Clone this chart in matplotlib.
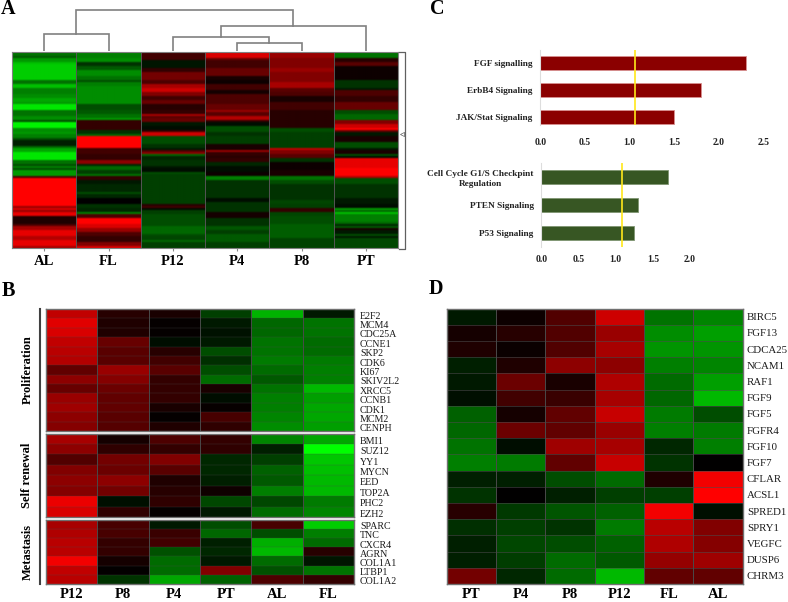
import numpy as np
import matplotlib
matplotlib.use("Agg")
import matplotlib.pyplot as plt
from matplotlib.colors import LinearSegmentedColormap
from matplotlib.transforms import ScaledTranslation

plt.rcParams['font.family'] = ['Liberation Serif', 'DejaVu Serif']

# === Panel A data: bands per column as (rows, value), 98 rows in total ===
a_labels = ["AL", "FL", "P12", "P4", "P8", "PT"]
a_al = [(2,-.45),(1,-.35),(2,-.6),(1,-.75),(8,-.8),(2,-.45),(2,-.75),(3,-.5),(2,-.55),(2,-.65),(1,-.6),
        (3,-.9),(3,-.45),(2,-.55),(1,-.3),(3,-.95),(2,-.55),(1,-.6),(2,-.5),(1,-.3),(3,-.12),(1,-.4),(2,-.65),
        (4,-.9),(2,-.45),(1,-.3),(1,-.5),(1,-.3),(3,-.6),(1,.3),(14,1.0),(1,.6),(1,.85),(1,.6),(2,.9),
        (4,.12),(1,.3),(2,.65),(3,.9),(2,.7),(3,.9),(2,.65)]
a_fl = [(3,-.5),(2,-.55),(2,-.2),(2,-.35),(3,-.55),(2,-.45),(1,-.3),(2,-.5),(9,-.55),(1,-.3),(2,-.3),(2,-.35),
        (2,-.45),(1,-.6),(5,.2),(2,-.2),(1,-.4),(6,1.0),(3,.25),(3,.2),(2,.55),(1,-.15),(2,-.4),(2,-.25),(1,-.45),
        (2,.2),(2,-.1),(4,-.15),(1,-.3),(2,-.15),(3,0),(2,-.2),(2,-.15),(1,-.5),(2,.3),(3,1.0),(2,.85),(2,.6),
        (2,.3),(3,.2),(2,.5),(2,.85)]
a_p12 = [(4,.25),(4,-.08),(2,.2),(4,.45),(2,.3),(2,.65),(2,.8),(2,.5),(2,.25),(2,.4),(3,.15),(2,.2),(1,.65),(1,.35),
         (2,.4),(2,-.1),(2,-.05),(1,.2),(2,.8),(4,-.3),(2,-.2),(1,-.1),(1,.3),(1,.55),(1,-.4),(2,-.15),(3,-.2),(1,-.1),
         (2,-.05),(1,-.3),(2,-.25),(13,-.25),(1,.15),(1,.25),(1,-.05),(2,-.25),(6,-.3),(4,-.4),(1,-.3),(2,-.27),(1,-.4),(3,-.25)]
a_p4 = [(3,.85),(1,.4),(4,.25),(4,.4),(2,.1),(2,.05),(3,.25),(2,.08),(5,.3),(3,.4),(1,.6),(2,.35),(2,.7),(1,.2),(2,-.05),
        (3,-.3),(2,-.2),(4,-.25),(3,.1),(1,.6),(2,.2),(1,.15),(2,.2),(2,-.15),(3,-.05),(2,.05),(2,-.5),(2,-.2),(7,-.2),
        (2,-.05),(5,-.2),(3,.08),(4,-.2),(2,-.33),(2,-.25),(4,-.35),(3,-.25)]
a_p8 = [(3,.6),(5,.5),(2,.6),(5,.5),(3,.65),(2,.35),(2,.3),(3,.1),(4,.25),(9,.15),(2,-.3),(2,-.25),(6,-.25),(1,.75),(2,.5),
        (2,.35),(2,-.2),(4,.05),(3,.1),(2,-.45),(2,-.3),(8,-.2),(2,-.27),(2,-.25),(2,.2),(2,-.27),(4,-.3),(7,-.36),(5,-.26)]
a_pt = [(3,-.45),(2,.15),(2,.35),(7,.05),(4,-.2),(1,-.1),(3,.3),(3,.2),(4,.4),(2,-.3),(3,-.4),(2,.5),(2,.8),(1,1.0),(1,.4),
        (2,-.1),(3,.1),(3,-.3),(1,-.1),(2,.1),(1,-.3),(1,-.05),(5,.9),(4,1.0),(1,.7),(3,-.3),(7,-.2),(3,-.1),(2,-.05),(1,-.6),
        (1,-.4),(1,-.75),(4,-.5),(1,-.4),(1,-.15),(1,-.35),(1,.1),(2,-.1),(1,-.3),(1,-.1),(5,-.28)]
a_columns = [a_al, a_fl, a_p12, a_p4, a_p8, a_pt]

# dendrogram merge heights, bottom up
h_p4_p8 = 7.3
h_p12 = 13.3
h_al_fl = 16.3
h_pt = 24.7
h_top = 40.7

# === Panel B data ===
b_cols = ["P12", "P8", "P4", "PT", "AL", "FL"]
b_prolif_genes = ["E2F2", "MCM4", "CDC25A", "CCNE1", "SKP2", "CDK6", "KI67", "SKIV2L2", "XRCC5", "CCNB1", "CDK1", "MCM2", "CENPH"]
b_prolif = [[.75,.15,.1,-.25,-.7,-.1],[.88,.12,.02,-.1,-.4,-.45],[.85,.12,.02,-.07,-.4,-.45],[.75,.4,-.05,-.1,-.45,-.42],
            [.72,.35,.15,-.3,-.45,-.42],[.7,.35,.25,-.18,-.48,-.48],[.38,.6,.35,-.3,-.42,-.5],[.55,.52,.2,-.42,-.35,-.5],
            [.4,.42,.2,.1,-.45,-.72],[.6,.38,.2,-.05,-.5,-.62],[.62,.38,.1,.03,-.5,-.65],[.55,.35,.02,.28,-.52,-.65],
            [.52,.33,.12,.18,-.55,-.62]]
b_renewal_genes = ["BMI1", "SUZ12", "YY1", "MYCN", "EED", "TOP2A", "PHC2", "EZH2"]
b_renewal = [[.65,.08,.3,.2,-.52,-.65],[.55,.18,.2,.18,-.12,-1],[.32,.45,.5,-.15,-.25,-.78],[.5,.42,.35,-.15,-.38,-.75],
             [.55,.55,.12,-.12,-.35,-.72],[.52,.45,.15,.06,-.5,-.72],[.92,-.06,.18,-.28,-.28,-.48],[.85,.18,.02,-.1,-.42,-.52]]
b_meta_genes = ["SPARC", "TNC", "CXCR4", "AGRN", "COL1A1", "LTBP1", "COL1A2"]
b_meta = [[.65,.28,-.1,-.3,.28,-.8],[.68,.28,.22,-.4,-.3,-.5],[.72,.2,.25,-.12,-.68,-.42],[.72,.2,-.32,-.15,-.72,.15],
          [.95,.08,-.42,-.1,-.42,-.08],[.75,.01,-.42,.5,-.32,-.45],[.72,-.2,-.65,-.38,.3,.2]]

# === Panel C data ===
c_up_terms = ["FGF signalling", "ErbB4 Signaling", "JAK/Stat Signaling"]
c_up_vals = [2.3, 1.8, 1.5]
c_up_thresh = 1.06
c_down_terms = ["Cell Cycle G1/S Checkpint\nRegulation", "PTEN Signaling", "P53 Signaling"]
c_down_vals = [1.7, 1.3, 1.25]
c_down_thresh = 1.09

# === Panel D data ===
d_cols = ["PT", "P4", "P8", "P12", "FL", "AL"]
d_genes = ["BIRC5", "FGF13", "CDCA25", "NCAM1", "RAF1", "FGF9", "FGF5", "FGFR4", "FGF10", "FGF7", "CFLAR", "ACSL1",
           "SPRED1", "SPRY1", "VEGFC", "DUSP6", "CHRM3"]
d_vals = [[-.1,.05,.32,.8,-.45,-.52],[.08,.15,.32,.6,-.55,-.62],[.12,.04,.32,.65,-.58,-.58],[-.12,.12,.55,.55,-.5,-.52],
          [-.1,.42,.1,.68,-.42,-.62],[-.06,.25,.22,.65,-.4,-.72],[-.38,.08,.38,.78,-.48,-.3],[-.4,.42,.38,.6,-.5,-.48],
          [-.45,-.05,.62,.65,-.15,-.5],[-.5,-.48,.38,.78,-.2,0],[-.12,-.12,-.3,-.42,.12,.95],[-.2,0,-.12,-.25,-.25,1],
          [.15,-.22,-.33,-.38,.95,-.06],[-.18,-.25,-.2,-.48,.72,.5],[-.12,-.28,-.3,-.38,.68,.52],[-.12,-.24,-.42,-.35,.58,.62],
          [.45,-.15,-.42,-.72,.38,.38]]

W, H = 788, 602
fig = plt.figure(figsize=(W / 100, H / 100), dpi=100)
gyr = LinearSegmentedColormap.from_list("gyr", ["#00ff00", "#000000", "#ff0000"])


def px_axes(x0, y0, x1, y1):
    # axes from pixel box, y counted from the top
    return fig.add_axes([x0 / W, 1 - y1 / H, (x1 - x0) / W, (y1 - y0) / H])


# overlay for panel letters and loose text
page = fig.add_axes([0, 0, 1, 1], zorder=10)
page.set_xlim(0, W)
page.set_ylim(H, 0)
page.axis("off")


def heat(box, vals, genes, cols=None, gene_size=7.2, gene_pad=4.3, shift=0, row_line=0.2):
    ax = px_axes(*box)
    arr = np.array(vals)
    ax.pcolormesh(arr, cmap=gyr, vmin=-1, vmax=1, edgecolors="none")
    # column separators are stronger than the row ones
    for x in range(1, arr.shape[1]):
        ax.axvline(x, color="#4a4a4a", lw=0.7)
    for y in range(1, arr.shape[0]):
        ax.axhline(y, color="#4a4a4a", lw=row_line)
    ax.set_ylim(arr.shape[0], 0)
    ax.set_yticks(np.arange(arr.shape[0]) + 0.5)
    ax.yaxis.tick_right()
    ax.set_yticklabels(genes, fontsize=gene_size, color="#1a1a1a")
    ax.tick_params(axis="y", length=0, pad=gene_pad)
    if shift:
        # gene names sit a little under the cell centres
        for lab in ax.get_yticklabels():
            lab.set_transform(lab.get_transform() + ScaledTranslation(0, -shift / 100, fig.dpi_scale_trans))
    if cols:
        ax.set_xticks(np.arange(len(cols)) + 0.5)
        ax.set_xticklabels(cols, fontsize=10.5, fontweight="bold")
        ax.tick_params(axis="x", length=0, pad=3)
    else:
        ax.set_xticks([])
    for s in ax.spines.values():
        s.set_color("#707070")
        s.set_linewidth(1.0)
    return ax


# === A: clustered heatmap ===
n_rows = 98
a_matrix = np.zeros((n_rows, len(a_columns)))
for j, col in enumerate(a_columns):
    expanded = np.repeat([v for _, v in col], [n for n, _ in col])
    expanded = np.resize(np.append(expanded, [expanded[-1]] * n_rows), n_rows)
    a_matrix[:, j] = expanded

ax_a = px_axes(12, 52, 398, 248)
# one image per column so the smoothing stays inside the column
for j in range(a_matrix.shape[1]):
    ax_a.imshow(a_matrix[:, [j]], cmap=gyr, vmin=-1, vmax=1, aspect="auto", interpolation="bilinear",
                extent=[j, j + 1, n_rows, 0])
ax_a.set_xlim(0, 6)
ax_a.set_ylim(n_rows, 0)
for x in range(1, 6):
    ax_a.axvline(x, color="#555555", lw=0.7)
ax_a.set_xticks(np.arange(6) + 0.5)
ax_a.set_xticklabels(a_labels, fontsize=10.5, fontweight="bold")
ax_a.tick_params(axis="x", length=2, pad=3, color="#888888")
ax_a.set_yticks([])
for s in ax_a.spines.values():
    s.set_color("#808080")

# dendrogram above the heatmap
ax_den = px_axes(12, 5.7, 398, 50.7)
ax_den.set_xlim(0, 6)
ax_den.set_ylim(0, 45)
ax_den.axis("off")


def merge(ax, x1, h1, x2, h2, h):
    ax.plot([x1, x1, x2, x2], [h1, h, h, h2], color="#808080", lw=1.2, solid_joinstyle="miter")
    return (x1 + x2) / 2


x_alfl = merge(ax_den, 0.5, 0, 1.5, 0, h_al_fl)
x_p4p8 = merge(ax_den, 3.5, 0, 4.5, 0, h_p4_p8)
x_p12 = merge(ax_den, 2.5, 0, x_p4p8, h_p4_p8, h_p12)
x_pt = merge(ax_den, x_p12, h_p12, 5.5, 0, h_pt)
merge(ax_den, x_alfl, h_al_fl, x_pt, h_pt, h_top)

# row bracket on the right
page.plot([399, 405.5, 405.5, 399], [51.5, 51.5, 248.5, 248.5], color="#606060", lw=0.9)
page.plot([402.5], [133.5], marker="<", ms=3, mfc="none", mec="#606060", mew=0.5)

# === B: gene blocks ===
heat((46, 309, 354, 431), b_prolif, b_prolif_genes, shift=1.5)
heat((46, 433.5, 354, 517), b_renewal, b_renewal_genes, shift=1.5)
heat((46, 519.5, 354, 584), b_meta, b_meta_genes, cols=b_cols, shift=1.5)
for y0, y1, name in [(309, 431, "Proliferation"), (433, 517, "Self renewal"), (519, 584, "Metastasis")]:
    page.plot([40.5, 40.5], [y0, y1], color="#404040", lw=1.5)
    page.text(27.5, (y0 + y1) / 2, name, rotation=90, ha="center", va="center", fontsize=9, fontweight="bold")

# === C: pathway bars ===
def bars(box, xmax, ylim, ticks, terms, vals, thresh, color, edge, xpad):
    ax = px_axes(*box)
    ypos = np.arange(len(vals))
    ax.barh(ypos, vals, height=0.5, color=color, edgecolor=edge, linewidth=0.6)
    ax.axvline(thresh, color="#ffe81a", lw=1.2)
    ax.set_xlim(0, xmax)
    ax.set_ylim(*ylim)
    ax.set_yticks(ypos)
    ax.set_yticklabels(terms, fontsize=6.7, fontweight="bold", color="#222222", multialignment="center",
                       linespacing=1.4)
    ax.set_xticks(ticks)
    ax.set_xticklabels([f"{t:.1f}" for t in ticks], fontsize=7, fontweight="bold", color="#222222")
    ax.tick_params(axis="y", length=0, pad=5.5)
    ax.tick_params(axis="x", length=0, pad=xpad)
    for name in ["top", "right", "bottom"]:
        ax.spines[name].set_visible(False)
    ax.spines["left"].set_color("#dddddd")
    return ax


bars((540.3, 50, 763.7, 124.5), 2.5, (2.28, -0.49), [0, 0.5, 1, 1.5, 2, 2.5], c_up_terms, c_up_vals,
     c_up_thresh, "#8b0000", "#d88f8f", 9.5)
bars((541.3, 163, 690, 247), 2.0, (2.5, -0.49), [0, 0.5, 1, 1.5, 2], c_down_terms, c_down_vals,
     c_down_thresh, "#375623", "#7f9572", 5.5)

# === D: FGF heatmap ===
heat((446.7, 308.5, 742.7, 584), d_vals, d_genes, cols=d_cols, gene_size=7.8, gene_pad=3, row_line=0.4)

# === panel letters ===
for x, y, letter in [(1, 9, "A"), (2, 291, "B"), (430, 9, "C"), (429, 289, "D")]:
    page.text(x, y, letter, fontsize=14.5, fontweight="bold", va="center", ha="left")

fig.savefig("out.png", dpi=100)
